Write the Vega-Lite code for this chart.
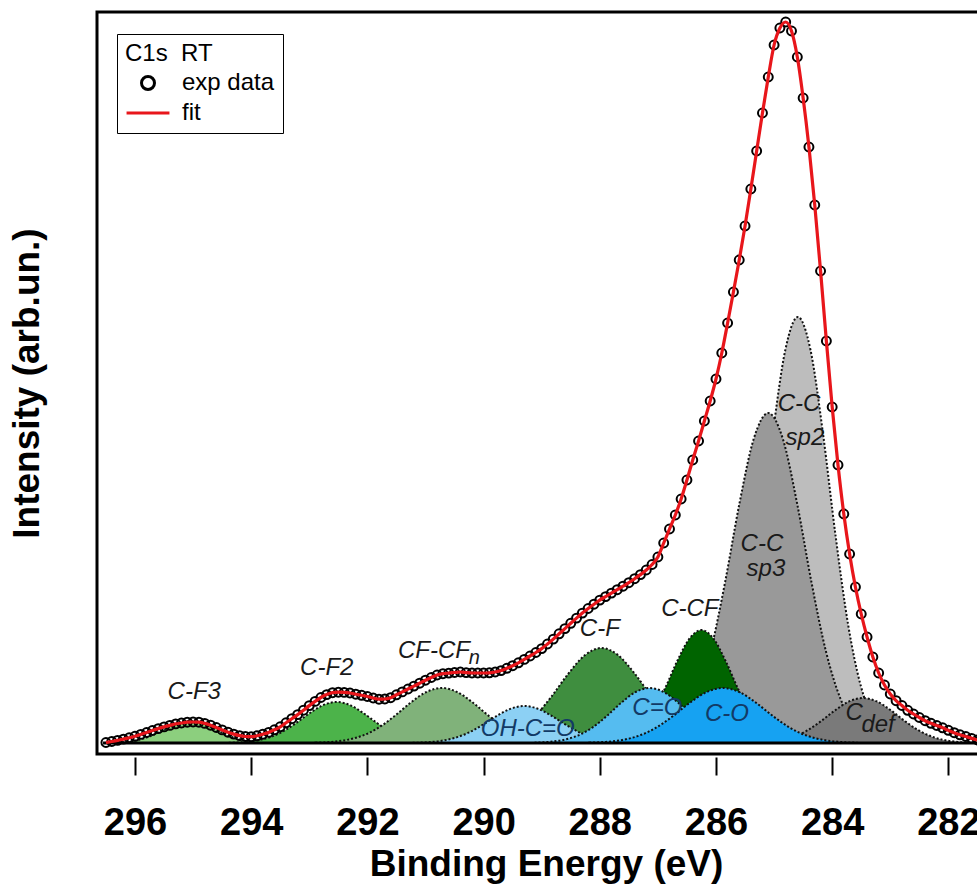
{
"$schema":"https://vega.github.io/schema/vega-lite/v6.json",
"width":882,"height":742,
"autosize":{"type":"none"},
"padding":{"left":97,"top":12,"right":0,"bottom":134},
"background":"white",
"config":{"view":{"stroke":"black","strokeWidth":3},"font":"Liberation Sans"},
"datasets":{
"spec":[
{"E":296.5,"I":0.5},{"E":296.4,"I":1.5},{"E":296.3,"I":2.6},{"E":296.2,"I":3.9},{"E":296.1,"I":5.2},{"E":296.0,"I":6.7},{"E":295.9,"I":8.6},{"E":295.8,"I":10.5},{"E":295.7,"I":12.5},{"E":295.6,"I":14.4},
{"E":295.5,"I":16.1},{"E":295.4,"I":17.6},{"E":295.3,"I":19.1},{"E":295.2,"I":20.0},{"E":295.1,"I":20.8},{"E":295.0,"I":21},{"E":294.9,"I":20.8},{"E":294.8,"I":19.6},{"E":294.7,"I":17.8},{"E":294.6,"I":15.5},
{"E":294.5,"I":13.1},{"E":294.4,"I":10.8},{"E":294.3,"I":8.9},{"E":294.2,"I":7.4},{"E":294.1,"I":6.5},{"E":294.0,"I":6.3},{"E":293.9,"I":7.2},{"E":293.8,"I":8.8},{"E":293.7,"I":10.6},{"E":293.6,"I":13.2},
{"E":293.5,"I":16.2},{"E":293.4,"I":20.2},{"E":293.3,"I":24.3},{"E":293.2,"I":28.4},{"E":293.1,"I":32.8},{"E":293.0,"I":37.4},{"E":292.9,"I":41.6},{"E":292.8,"I":45.5},{"E":292.7,"I":48.4},{"E":292.6,"I":50.3},
{"E":292.5,"I":50.8},{"E":292.4,"I":50.6},{"E":292.3,"I":50.0},{"E":292.2,"I":48.8},{"E":292.1,"I":47.7},{"E":292.0,"I":46.5},{"E":291.9,"I":45.0},{"E":291.8,"I":43.8},{"E":291.7,"I":44.0},{"E":291.6,"I":45.3},
{"E":291.5,"I":48.2},{"E":291.4,"I":51.1},{"E":291.3,"I":54.0},{"E":291.2,"I":56.9},{"E":291.1,"I":59.8},{"E":291.0,"I":62.8},{"E":290.9,"I":65.5},{"E":290.8,"I":68.0},{"E":290.7,"I":69.3},{"E":290.6,"I":69.9},
{"E":290.5,"I":70.5},{"E":290.4,"I":71.0},{"E":290.3,"I":70.4},{"E":290.2,"I":70.0},{"E":290.1,"I":70.0},{"E":290.0,"I":70.0},{"E":289.9,"I":70.2},{"E":289.8,"I":71.0},{"E":289.7,"I":72.4},{"E":289.6,"I":74.7},
{"E":289.5,"I":77.3},{"E":289.4,"I":80.2},{"E":289.3,"I":83.6},{"E":289.2,"I":87.0},{"E":289.1,"I":90.5},{"E":289.0,"I":94.4},{"E":288.9,"I":99.0},{"E":288.8,"I":103.9},{"E":288.7,"I":109.2},{"E":288.6,"I":114.4},
{"E":288.5,"I":119.7},{"E":288.4,"I":124.9},{"E":288.3,"I":129.9},{"E":288.2,"I":134.5},{"E":288.1,"I":138.8},{"E":288.0,"I":142.9},{"E":287.9,"I":146.4},{"E":287.8,"I":149.9},{"E":287.7,"I":153.3},{"E":287.6,"I":156.8},
{"E":287.5,"I":160.3},{"E":287.4,"I":164.3},{"E":287.3,"I":168.4},{"E":287.2,"I":173.0},{"E":287.1,"I":178.5},{"E":287.0,"I":186},{"E":286.9,"I":200},{"E":286.8,"I":214},{"E":286.7,"I":228},{"E":286.6,"I":244},
{"E":286.5,"I":263},{"E":286.4,"I":283},{"E":286.3,"I":302},{"E":286.2,"I":322},{"E":286.1,"I":342},{"E":286.0,"I":364},{"E":285.9,"I":390},{"E":285.8,"I":420},{"E":285.7,"I":451},{"E":285.6,"I":483},
{"E":285.5,"I":517},{"E":285.4,"I":554},{"E":285.3,"I":592},{"E":285.2,"I":630},{"E":285.1,"I":666},{"E":285.0,"I":698},{"E":284.9,"I":715},{"E":284.8,"I":721},{"E":284.7,"I":712},{"E":284.6,"I":686},
{"E":284.5,"I":645},{"E":284.4,"I":596},{"E":284.3,"I":538},{"E":284.2,"I":472},{"E":284.1,"I":402},{"E":284.0,"I":336},{"E":283.9,"I":278},{"E":283.8,"I":229},{"E":283.7,"I":189},{"E":283.6,"I":156},
{"E":283.5,"I":129},{"E":283.4,"I":106},{"E":283.3,"I":86},{"E":283.2,"I":70},{"E":283.1,"I":58},{"E":283.0,"I":49},{"E":282.9,"I":42.3},{"E":282.8,"I":37.5},{"E":282.7,"I":32.7},{"E":282.6,"I":29.0},
{"E":282.5,"I":25.5},{"E":282.4,"I":22.3},{"E":282.3,"I":19.7},{"E":282.2,"I":17.5},{"E":282.1,"I":15.2},{"E":282.0,"I":12.7},{"E":281.9,"I":10.3},{"E":281.8,"I":8.2},{"E":281.7,"I":6.5},{"E":281.6,"I":4.6},
{"E":281.5,"I":3.0}
],
"comps":[
{"c":"sp2","E":282.862,"I":2.56},{"c":"sp2","E":283.078,"I":8.43},{"c":"sp2","E":283.294,"I":23.9},{"c":"sp2","E":283.51,"I":57.64},{"c":"sp2","E":283.726,"I":118.43},{"c":"sp2","E":283.942,"I":207.38},{"c":"sp2","E":284.158,"I":309.32},{"c":"sp2","E":284.374,"I":393.24},{"c":"sp2","E":284.59,"I":426},{"c":"sp2","E":284.806,"I":393.24},{"c":"sp2","E":285.022,"I":309.32},{"c":"sp2","E":285.238,"I":207.38},{"c":"sp2","E":285.454,"I":118.43},{"c":"sp2","E":285.67,"I":57.64},{"c":"sp2","E":285.886,"I":23.9},{"c":"sp2","E":286.102,"I":8.43},{"c":"sp2","E":286.318,"I":2.56},
{"c":"sp3","E":283.116,"I":1.98},{"c":"sp3","E":283.364,"I":6.53},{"c":"sp3","E":283.612,"I":18.51},{"c":"sp3","E":283.86,"I":44.65},{"c":"sp3","E":284.108,"I":91.74},{"c":"sp3","E":284.356,"I":160.64},{"c":"sp3","E":284.604,"I":239.61},{"c":"sp3","E":284.852,"I":304.62},{"c":"sp3","E":285.1,"I":330},{"c":"sp3","E":285.348,"I":304.62},{"c":"sp3","E":285.596,"I":239.61},{"c":"sp3","E":285.844,"I":160.64},{"c":"sp3","E":286.092,"I":91.74},{"c":"sp3","E":286.34,"I":44.65},{"c":"sp3","E":286.588,"I":18.51},{"c":"sp3","E":286.836,"I":6.53},{"c":"sp3","E":287.084,"I":1.98},
{"c":"def","E":281.55,"I":0.27},{"c":"def","E":281.79,"I":0.89},{"c":"def","E":282.03,"I":2.52},{"c":"def","E":282.27,"I":6.09},{"c":"def","E":282.51,"I":12.51},{"c":"def","E":282.75,"I":21.91},{"c":"def","E":282.99,"I":32.67},{"c":"def","E":283.23,"I":41.54},{"c":"def","E":283.47,"I":45},{"c":"def","E":283.71,"I":41.54},{"c":"def","E":283.95,"I":32.67},{"c":"def","E":284.19,"I":21.91},{"c":"def","E":284.43,"I":12.51},{"c":"def","E":284.67,"I":6.09},{"c":"def","E":284.91,"I":2.52},{"c":"def","E":285.15,"I":0.89},{"c":"def","E":285.39,"I":0.27},
{"c":"CF3","E":293.61,"I":0.13},{"c":"CF3","E":293.79,"I":0.44},{"c":"CF3","E":293.97,"I":1.23},{"c":"CF3","E":294.15,"I":2.98},{"c":"CF3","E":294.33,"I":6.12},{"c":"CF3","E":294.51,"I":10.71},{"c":"CF3","E":294.69,"I":15.97},{"c":"CF3","E":294.87,"I":20.31},{"c":"CF3","E":295.05,"I":22},{"c":"CF3","E":295.23,"I":20.31},{"c":"CF3","E":295.41,"I":15.97},{"c":"CF3","E":295.59,"I":10.71},{"c":"CF3","E":295.77,"I":6.12},{"c":"CF3","E":295.95,"I":2.98},{"c":"CF3","E":296.13,"I":1.23},{"c":"CF3","E":296.31,"I":0.44},{"c":"CF3","E":296.49,"I":0.13},
{"c":"CF2","E":290.674,"I":0.25},{"c":"CF2","E":290.906,"I":0.81},{"c":"CF2","E":291.138,"I":2.3},{"c":"CF2","E":291.37,"I":5.55},{"c":"CF2","E":291.602,"I":11.4},{"c":"CF2","E":291.834,"I":19.96},{"c":"CF2","E":292.066,"I":29.77},{"c":"CF2","E":292.298,"I":37.85},{"c":"CF2","E":292.53,"I":41},{"c":"CF2","E":292.762,"I":37.85},{"c":"CF2","E":292.994,"I":29.77},{"c":"CF2","E":293.226,"I":19.96},{"c":"CF2","E":293.458,"I":11.4},{"c":"CF2","E":293.69,"I":5.55},{"c":"CF2","E":293.922,"I":2.3},{"c":"CF2","E":294.154,"I":0.81},{"c":"CF2","E":294.386,"I":0.25},
{"c":"CFn","E":288.544,"I":0.33},{"c":"CFn","E":288.816,"I":1.09},{"c":"CFn","E":289.088,"I":3.09},{"c":"CFn","E":289.36,"I":7.44},{"c":"CFn","E":289.632,"I":15.29},{"c":"CFn","E":289.904,"I":26.77},{"c":"CFn","E":290.176,"I":39.94},{"c":"CFn","E":290.448,"I":50.77},{"c":"CFn","E":290.72,"I":55},{"c":"CFn","E":290.992,"I":50.77},{"c":"CFn","E":291.264,"I":39.94},{"c":"CFn","E":291.536,"I":26.77},{"c":"CFn","E":291.808,"I":15.29},{"c":"CFn","E":292.08,"I":7.44},{"c":"CFn","E":292.352,"I":3.09},{"c":"CFn","E":292.624,"I":1.09},{"c":"CFn","E":292.896,"I":0.33},
{"c":"CF","E":285.666,"I":0.57},{"c":"CF","E":285.954,"I":1.88},{"c":"CF","E":286.242,"I":5.33},{"c":"CF","E":286.53,"I":12.85},{"c":"CF","E":286.818,"I":26.41},{"c":"CF","E":287.106,"I":46.25},{"c":"CF","E":287.394,"I":68.98},{"c":"CF","E":287.682,"I":87.69},{"c":"CF","E":287.97,"I":95},{"c":"CF","E":288.258,"I":87.69},{"c":"CF","E":288.546,"I":68.98},{"c":"CF","E":288.834,"I":46.25},{"c":"CF","E":289.122,"I":26.41},{"c":"CF","E":289.41,"I":12.85},{"c":"CF","E":289.698,"I":5.33},{"c":"CF","E":289.986,"I":1.88},{"c":"CF","E":290.274,"I":0.57},
{"c":"CCF","E":284.586,"I":0.68},{"c":"CCF","E":284.794,"I":2.24},{"c":"CCF","E":285.002,"I":6.34},{"c":"CCF","E":285.21,"I":15.29},{"c":"CCF","E":285.418,"I":31.41},{"c":"CCF","E":285.626,"I":55.01},{"c":"CCF","E":285.834,"I":82.05},{"c":"CCF","E":286.042,"I":104.31},{"c":"CCF","E":286.25,"I":113},{"c":"CCF","E":286.458,"I":104.31},{"c":"CCF","E":286.666,"I":82.05},{"c":"CCF","E":286.874,"I":55.01},{"c":"CCF","E":287.082,"I":31.41},{"c":"CCF","E":287.29,"I":15.29},{"c":"CCF","E":287.498,"I":6.34},{"c":"CCF","E":287.706,"I":2.24},{"c":"CCF","E":287.914,"I":0.68},
{"c":"OH","E":287.38,"I":0.22},{"c":"OH","E":287.62,"I":0.73},{"c":"OH","E":287.86,"I":2.08},{"c":"OH","E":288.1,"I":5.01},{"c":"OH","E":288.34,"I":10.29},{"c":"OH","E":288.58,"I":18.01},{"c":"OH","E":288.82,"I":26.87},{"c":"OH","E":289.06,"I":34.15},{"c":"OH","E":289.3,"I":37},{"c":"OH","E":289.54,"I":34.15},{"c":"OH","E":289.78,"I":26.87},{"c":"OH","E":290.02,"I":18.01},{"c":"OH","E":290.26,"I":10.29},{"c":"OH","E":290.5,"I":5.01},{"c":"OH","E":290.74,"I":2.08},{"c":"OH","E":290.98,"I":0.73},{"c":"OH","E":291.22,"I":0.22},
{"c":"CeqO","E":285.156,"I":0.33},{"c":"CeqO","E":285.404,"I":1.09},{"c":"CeqO","E":285.652,"I":3.09},{"c":"CeqO","E":285.9,"I":7.44},{"c":"CeqO","E":286.148,"I":15.29},{"c":"CeqO","E":286.396,"I":26.77},{"c":"CeqO","E":286.644,"I":39.94},{"c":"CeqO","E":286.892,"I":50.77},{"c":"CeqO","E":287.14,"I":55},{"c":"CeqO","E":287.388,"I":50.77},{"c":"CeqO","E":287.636,"I":39.94},{"c":"CeqO","E":287.884,"I":26.77},{"c":"CeqO","E":288.132,"I":15.29},{"c":"CeqO","E":288.38,"I":7.44},{"c":"CeqO","E":288.628,"I":3.09},{"c":"CeqO","E":288.876,"I":1.09},{"c":"CeqO","E":289.124,"I":0.33},
{"c":"CO","E":283.576,"I":0.33},{"c":"CO","E":283.864,"I":1.09},{"c":"CO","E":284.152,"I":3.09},{"c":"CO","E":284.44,"I":7.44},{"c":"CO","E":284.728,"I":15.29},{"c":"CO","E":285.016,"I":26.77},{"c":"CO","E":285.304,"I":39.94},{"c":"CO","E":285.592,"I":50.77},{"c":"CO","E":285.88,"I":55},{"c":"CO","E":286.168,"I":50.77},{"c":"CO","E":286.456,"I":39.94},{"c":"CO","E":286.744,"I":26.77},{"c":"CO","E":287.032,"I":15.29},{"c":"CO","E":287.32,"I":7.44},{"c":"CO","E":287.608,"I":3.09},{"c":"CO","E":287.896,"I":1.09},{"c":"CO","E":288.184,"I":0.33}
],
"base":[{"E":296.55,"I":0},{"E":281.3,"I":0}],
"labels":[
{"g":"k","t":"C-F3","E":294.98,"I":51},
{"g":"k","t":"C-F2","E":292.7,"I":75},
{"g":"k","t":"CF-CF","E":290.854,"I":92},
{"g":"s","t":"n","E":290.16,"I":85},
{"g":"k","t":"C-F","E":288.0,"I":114},
{"g":"k","t":"C-CF","E":286.45,"I":134},
{"g":"k","t":"C-C","E":285.21,"I":199},
{"g":"k","t":"sp3","E":285.14,"I":174},
{"g":"k","t":"C-C","E":284.57,"I":339},
{"g":"k","t":"sp2","E":284.47,"I":305},
{"g":"k","t":"C","E":283.623,"I":30},
{"g":"k","t":"def","E":283.21,"I":18},
{"g":"b","t":"OH-C=O","E":289.24,"I":14},
{"g":"b","t":"C=O","E":287.01,"I":35},
{"g":"b","t":"C-O","E":285.81,"I":29}
]
},
"encoding":{
"x":{"field":"E","type":"quantitative","scale":{"domain":[281.473,296.654],"reverse":true,"nice":false,"zero":false},
"axis":{"values":[282,284,286,288,290,292,294,296],"grid":false,"domain":false,"tickColor":"black","tickWidth":2,"tickSize":18,"offset":3,"labelFont":"Liberation Sans","labelFontWeight":"bold","labelFontSize":38,"labelColor":"black","labelPadding":29,"labelFlush":false,"labelOverlap":false,"title":"Binding Energy (eV)","titleFont":"Liberation Sans","titleFontWeight":"bold","titleFontSize":37,"titleColor":"black","titlePadding":4,"titleX":449}},
"y":{"field":"I","type":"quantitative","scale":{"domain":[-11,731],"nice":false,"zero":false},
"axis":{"grid":false,"domain":false,"ticks":false,"labels":false,"title":"Intensity (arb.un.)","titleFont":"Liberation Sans","titleFontWeight":"bold","titleFontSize":37,"titleColor":"black","titleX":-70,"titleY":371,"titleBaseline":"middle","titleAngle":270}}
},
"layer":[
{"data":{"name":"comps"},"transform":[{"filter":"datum.c=='sp2'"}],"mark":{"type":"area","interpolate":"monotone","fill":"#bdbdbd","stroke":"#111111","strokeWidth":2,"strokeDash":[2,2]},"encoding":{}},
{"data":{"name":"comps"},"transform":[{"filter":"datum.c=='sp3'"}],"mark":{"type":"area","interpolate":"monotone","fill":"#999999","stroke":"#111111","strokeWidth":2,"strokeDash":[2,2]},"encoding":{}},
{"data":{"name":"comps"},"transform":[{"filter":"datum.c=='def'"}],"mark":{"type":"area","interpolate":"monotone","fill":"#7a7a7a","stroke":"#111111","strokeWidth":2,"strokeDash":[2,2]},"encoding":{}},
{"data":{"name":"comps"},"transform":[{"filter":"datum.c=='CF3'"}],"mark":{"type":"area","interpolate":"monotone","fill":"#8ccf7e","stroke":"#111111","strokeWidth":2,"strokeDash":[2,2]},"encoding":{}},
{"data":{"name":"comps"},"transform":[{"filter":"datum.c=='CF2'"}],"mark":{"type":"area","interpolate":"monotone","fill":"#4cb34a","stroke":"#111111","strokeWidth":2,"strokeDash":[2,2]},"encoding":{}},
{"data":{"name":"comps"},"transform":[{"filter":"datum.c=='CFn'"}],"mark":{"type":"area","interpolate":"monotone","fill":"#80b27a","stroke":"#111111","strokeWidth":2,"strokeDash":[2,2]},"encoding":{}},
{"data":{"name":"comps"},"transform":[{"filter":"datum.c=='CF'"}],"mark":{"type":"area","interpolate":"monotone","fill":"#3f8e3f","stroke":"#111111","strokeWidth":2,"strokeDash":[2,2]},"encoding":{}},
{"data":{"name":"comps"},"transform":[{"filter":"datum.c=='CCF'"}],"mark":{"type":"area","interpolate":"monotone","fill":"#006400","stroke":"#111111","strokeWidth":2,"strokeDash":[2,2]},"encoding":{}},
{"data":{"name":"comps"},"transform":[{"filter":"datum.c=='OH'"}],"mark":{"type":"area","interpolate":"monotone","fill":"#8cd0f4","stroke":"#111111","strokeWidth":2,"strokeDash":[2,2]},"encoding":{}},
{"data":{"name":"comps"},"transform":[{"filter":"datum.c=='CeqO'"}],"mark":{"type":"area","interpolate":"monotone","fill":"#55bcf0","stroke":"#111111","strokeWidth":2,"strokeDash":[2,2]},"encoding":{}},
{"data":{"name":"comps"},"transform":[{"filter":"datum.c=='CO'"}],"mark":{"type":"area","interpolate":"monotone","fill":"#16a2f2","stroke":"#111111","strokeWidth":2,"strokeDash":[2,2]},"encoding":{}},
{"data":{"name":"base"},"mark":{"type":"line","color":"black","strokeWidth":3,"clip":true},"encoding":{}},
{"data":{"name":"spec"},"mark":{"type":"point","filled":false,"size":80,"strokeWidth":2,"opacity":1},
"encoding":{
"color":{"datum":"exp data","type":"nominal","scale":{"domain":["exp data","fit"],"range":["#000000","#e8161b"]},
"legend":{"title":"C1s\u00a0 RT","orient":"none","legendX":20,"legendY":22,"padding":8,"strokeColor":"black","fillColor":"white","titleFont":"Liberation Sans","titleFontSize":24,"titleFontWeight":"normal","titleColor":"black","titlePadding":5,"labelFont":"Liberation Sans","labelFontSize":24,"labelColor":"black","labelOffset":22,"symbolOffset":11,"symbolSize":169,"symbolStrokeWidth":3,"rowPadding":5,"cornerRadius":0,
"encode":{"legend":{"update":{"strokeWidth":{"value":2}}},"symbols":{"update":{"strokeWidth":{"signal":"datum.value === 'fit' ? 4 : 2.5"}}}}}},
"shape":{"datum":"exp data","type":"nominal","scale":{"domain":["exp data","fit"],"range":["circle","M-3.3,0H3.3"]},
"legend":{"title":"C1s\u00a0 RT","orient":"none","legendX":20,"legendY":22}}
}},
{"data":{"name":"spec"},"mark":{"type":"line","interpolate":"monotone","strokeWidth":3.2},"encoding":{"color":{"datum":"fit","type":"nominal"}}},
{"data":{"name":"labels"},"transform":[{"filter":"datum.g=='k'"}],"mark":{"type":"text","font":"Liberation Sans","fontStyle":"italic","fontSize":24,"fill":"#1a1a1a","align":"center","baseline":"middle"},"encoding":{"text":{"field":"t"}}},
{"data":{"name":"labels"},"transform":[{"filter":"datum.g=='b'"}],"mark":{"type":"text","font":"Liberation Sans","fontStyle":"italic","fontSize":24,"fill":"#123a66","align":"center","baseline":"middle"},"encoding":{"text":{"field":"t"}}},
{"data":{"name":"labels"},"transform":[{"filter":"datum.g=='s'"}],"mark":{"type":"text","font":"Liberation Sans","fontStyle":"italic","fontSize":20,"fill":"#1a1a1a","align":"center","baseline":"middle"},"encoding":{"text":{"field":"t"}}}
]
}
